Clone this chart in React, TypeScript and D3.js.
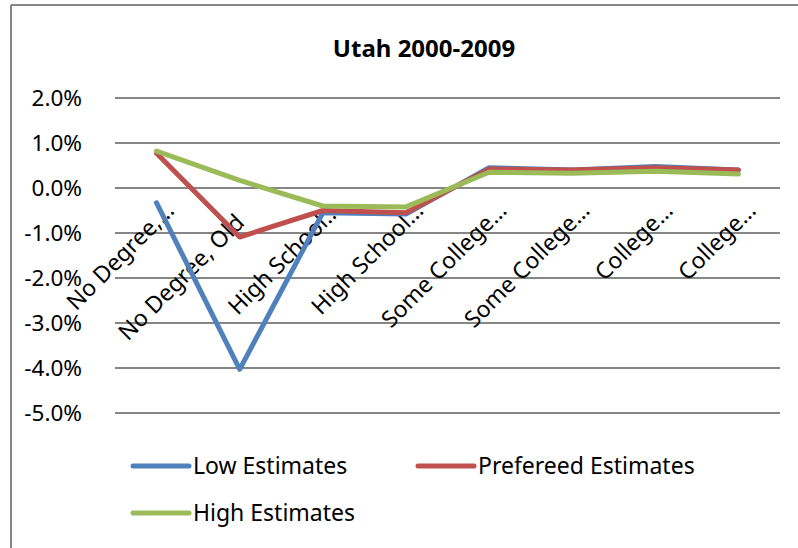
import React from "react";
import * as d3 from "d3";

const categories = [
  "No Degree,…",
  "No Degree, Old",
  "High School…",
  "High School…",
  "Some College…",
  "Some College…",
  "College…",
  "College…",
];
const lowEstimates = [-0.33, -4.03, -0.55, -0.58, 0.45, 0.4, 0.48, 0.4];
const preferredEstimates = [0.77, -1.09, -0.5, -0.55, 0.42, 0.4, 0.45, 0.4];
const highEstimates = [0.82, 0.17, -0.4, -0.42, 0.35, 0.33, 0.37, 0.31];
const yTicks = [2, 1, 0, -1, -2, -3, -4, -5];
const seriesNames = ["Low Estimates", "Prefereed Estimates", "High Estimates"];
const seriesColors = ["#4F81BD", "#C0504D", "#9BBB59"];
const title = "Utah 2000-2009";

const W = 798;
const H = 548;
const FONT = "'Noto Sans', 'DejaVu Sans', sans-serif";

export default function App() {
  const x = d3.scaleBand<number>().domain(d3.range(categories.length)).range([115, 780]);
  const y = d3.scaleLinear().domain([-5, 2]).range([413, 98]);
  const cx = (i: number) => (x(i) as number) + x.bandwidth() / 2;
  const line = d3
    .line<number>()
    .x((_, i) => cx(i))
    .y((v) => y(v));
  const series = [lowEstimates, preferredEstimates, highEstimates];
  const fmt = (v: number) => v.toFixed(1) + "%";
  const y0 = y(0);

  const legendItems = [
    { x: 133, y: 466 },
    { x: 418, y: 466 },
    { x: 133, y: 513 },
  ];

  return (
    <svg
      width={W}
      height={H}
      style={{ position: "absolute", left: 0, top: 0, background: "#fff" }}
      fontFamily={FONT}
    >
      <rect x={0} y={0} width={W} height={H} fill="#fff" />
      {/* chart border */}
      <line x1={11} y1={5} x2={W} y2={5} stroke="#868686" strokeWidth={2} />
      <line x1={11} y1={5} x2={11} y2={H} stroke="#868686" strokeWidth={2} />

      <text x={424} y={57} textAnchor="middle" fontSize={24} fontWeight="bold" fill="#000">
        {title}
      </text>

      {/* grid + y labels */}
      {yTicks.map((t) => (
        <g key={t}>
          <line x1={115} x2={780} y1={y(t)} y2={y(t)} stroke="#868686" strokeWidth={2} />
          <text x={82} y={y(t)} dy="0.35em" textAnchor="end" fontSize={22.5} fill="#000">
            {fmt(t)}
          </text>
        </g>
      ))}

      {/* category labels */}
      {categories.map((c, i) => {
        const truncated = c.endsWith("…");
        const bx = cx(i) + (truncated ? 19 : 6);
        const by = y0 + (truncated ? 24 : 36);
        return (
          <text
            key={i}
            x={bx}
            y={by}
            textAnchor="end"
            fontSize={23}
            fill="#000"
            transform={`rotate(-45 ${bx} ${by})`}
          >
            {c}
          </text>
        );
      })}

      {/* lines */}
      {series.map((s, k) => (
        <path
          key={k}
          d={line(s) as string}
          fill="none"
          stroke={seriesColors[k]}
          strokeWidth={5}
          strokeLinejoin="round"
          strokeLinecap="round"
        />
      ))}

      {/* legend */}
      {legendItems.map((p, k) => (
        <g key={k}>
          <line
            x1={p.x}
            x2={p.x + 56}
            y1={p.y}
            y2={p.y}
            stroke={seriesColors[k]}
            strokeWidth={5}
            strokeLinecap="round"
          />
          <text x={p.x + 60} y={p.y + 8} fontSize={23} fill="#000">
            {seriesNames[k]}
          </text>
        </g>
      ))}
    </svg>
  );
}
